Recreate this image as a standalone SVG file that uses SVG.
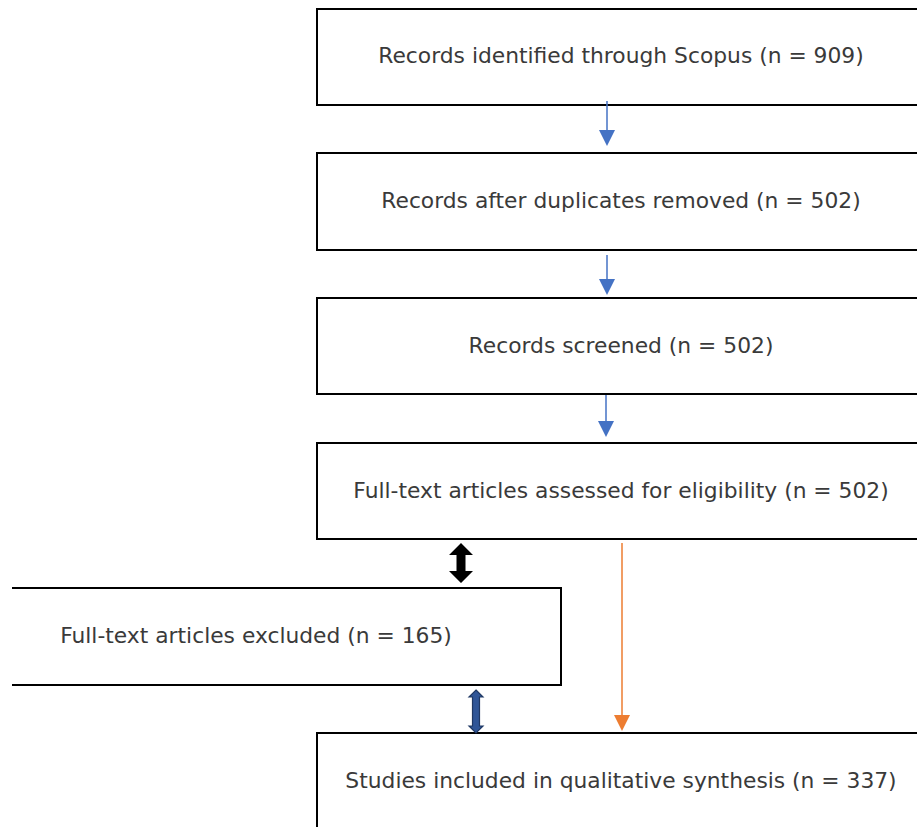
<svg xmlns="http://www.w3.org/2000/svg" width="917" height="827" viewBox="0 0 917 827">
<style>
.box{fill:#fff;stroke:#000;stroke-width:2}
.t{font-family:"DejaVu Sans",sans-serif;font-size:21.8px;fill:#3a3a3a;text-anchor:middle}
.blue{stroke:#4472C4;stroke-width:1.5;fill:none}
.orange{stroke:#ED7D31;stroke-width:1.5;fill:none}
</style>
<rect width="917" height="827" fill="#fff"/>
<g id="n1"><rect class="box" x="317" y="9" width="620" height="96"/><text class="t" x="621" y="63">Records identified through Scopus (n = 909)</text></g>
<g id="n2"><rect class="box" x="317" y="153" width="620" height="97"/><text class="t" x="621" y="208">Records after duplicates removed (n = 502)</text></g>
<g id="n3"><rect class="box" x="317" y="298" width="620" height="96"/><text class="t" x="621" y="353">Records screened (n = 502)</text></g>
<g id="n4"><rect class="box" x="317" y="443" width="620" height="96"/><text class="t" x="621" y="498">Full-text articles assessed for eligibility (n = 502)</text></g>
<g id="n5"><path class="box" d="M12,588 H561 V685 H12"/><text class="t" x="256" y="643">Full-text articles excluded (n = 165)</text></g>
<g id="n6"><rect class="box" x="317" y="733" width="620" height="120"/><text class="t" x="621" y="788">Studies included in qualitative synthesis (n = 337)</text></g>
<g id="connectors">
<line class="blue" x1="607" y1="101" x2="607" y2="132"/><path d="M599,130 H615 L607,146 Z" fill="#4472C4"/>
<line class="blue" x1="607" y1="255" x2="607" y2="281"/><path d="M599,279 H615 L607,295 Z" fill="#4472C4"/>
<line class="blue" x1="606" y1="395" x2="606" y2="423"/><path d="M598,421 H614 L606,437 Z" fill="#4472C4"/>
<line class="orange" x1="622" y1="543" x2="622" y2="717"/><path d="M614,715 H630 L622,731 Z" fill="#ED7D31"/>
<path d="M461,543 L473,555 H465.5 V571 H473 L461,583 L449,571 H456.5 V555 H449 Z" fill="#000"/>
<path d="M476,690 L483,697 H479.5 V726 H483 L476,733 L469,726 H472.5 V697 H469 Z" fill="#2F5597" stroke="#1F3864" stroke-width="1.2"/>
</g>
</svg>
